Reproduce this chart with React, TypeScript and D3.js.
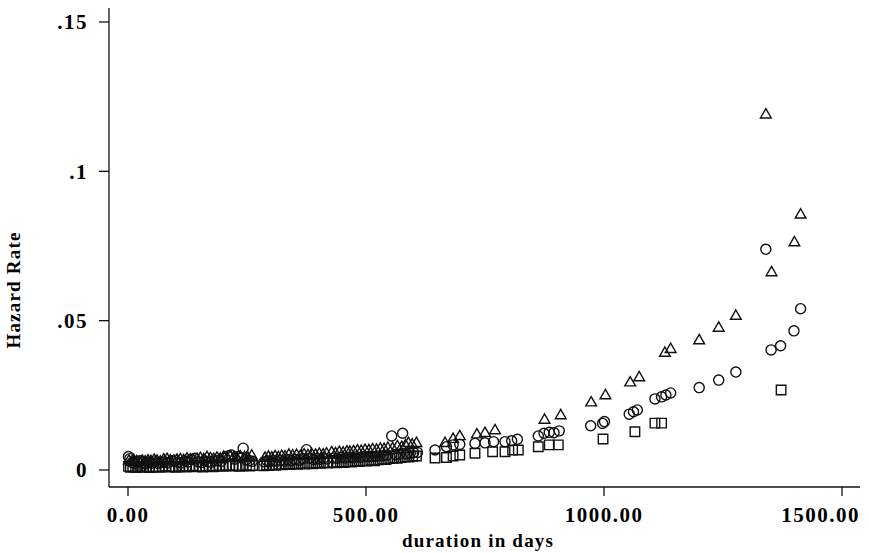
import React from "react";
import * as d3 from "d3";

// [day, hazard] pairs, one list per group
const circleDays = [
  1, 4, 9, 14, 19, 25, 31, 37, 43, 50, 56, 63, 70, 77, 84, 91, 98, 105, 112, 119, 126, 133, 140, 147, 154, 161, 168, 175, 182, 189, 196, 203, 210, 217, 224, 231, 238, 242, 248, 255, 261,
  286, 292, 298, 305, 312, 320, 328, 336, 344, 352, 360, 368, 375, 382, 390, 397, 404, 411, 418, 432, 440, 448, 456, 464, 472, 480, 488, 496, 504, 512, 520, 528, 536, 544, 554, 562, 570, 577, 585, 593, 600, 608,
  645, 669, 683, 697, 729, 750, 768, 792, 806, 818, 862, 874, 885, 895, 906, 972, 997, 1001, 1053, 1062, 1070, 1107, 1121, 1130, 1140, 1200, 1241, 1277, 1340, 1351, 1371, 1399, 1413,
];
const circleRates = [
  0.0045, 0.0038, 0.0025, 0.0022, 0.0028, 0.0031, 0.0024, 0.0021, 0.0026, 0.0023, 0.0027, 0.0022, 0.0025, 0.0028, 0.0024, 0.0029, 0.0033, 0.0026, 0.0024, 0.003, 0.0027, 0.0035, 0.0039, 0.0028, 0.0025, 0.0031, 0.0028, 0.0026, 0.003, 0.0032, 0.0029, 0.0041, 0.0047, 0.005, 0.0036, 0.0045, 0.004, 0.0073, 0.0034, 0.0031, 0.0029,
  0.0027, 0.003, 0.0028, 0.0031, 0.0029, 0.0033, 0.003, 0.0034, 0.0031, 0.0035, 0.0033, 0.0038, 0.0068, 0.0039, 0.0035, 0.0038, 0.0036, 0.004, 0.0037, 0.004, 0.0039, 0.0042, 0.004, 0.0043, 0.0041, 0.0044, 0.0042, 0.0045, 0.0044, 0.0046, 0.0045, 0.0047, 0.0048, 0.005, 0.0114, 0.0051, 0.0053, 0.0123, 0.0054, 0.0056, 0.0058, 0.0059,
  0.0067, 0.0078, 0.0084, 0.0086, 0.0089, 0.0091, 0.0095, 0.0095, 0.0098, 0.0103, 0.0114, 0.0123, 0.0126, 0.0125, 0.0131, 0.0148, 0.0156, 0.0162, 0.0187, 0.0195, 0.0201, 0.0238, 0.0245, 0.0251, 0.0258, 0.0276, 0.0301, 0.0328, 0.0739, 0.0402, 0.0416, 0.0466, 0.054,
];

const triangleDays = [
  2, 7, 12, 18, 24, 30, 36, 42, 48, 55, 61, 68, 75, 82, 89, 96, 103, 110, 117, 124, 131, 138, 145, 152, 159, 166, 173, 180, 187, 194, 201, 208, 215, 222, 229, 236, 245, 252, 260,
  288, 295, 302, 309, 316, 323, 330, 338, 346, 354, 362, 370, 378, 386, 394, 402, 410, 417, 428, 436, 444, 452, 460, 466, 474, 482, 490, 498, 506, 514, 522, 530, 538, 546, 556, 566, 575, 583, 589, 597, 606,
  666, 683, 697, 733, 750, 771, 875, 909, 973, 1003, 1055, 1074, 1128, 1140, 1200, 1241, 1277, 1340, 1352, 1400, 1413,
];
const triangleRates = [
  0.003, 0.0026, 0.0032, 0.0028, 0.0025, 0.003, 0.0027, 0.0031, 0.0029, 0.0033, 0.003, 0.0027, 0.0034, 0.0036, 0.0031, 0.0029, 0.0033, 0.0035, 0.0032, 0.0037, 0.0034, 0.0031, 0.0036, 0.0039, 0.0035, 0.0042, 0.0038, 0.0036, 0.004, 0.0037, 0.0043, 0.0039, 0.0045, 0.0041, 0.0038, 0.0044, 0.0042, 0.004, 0.0047,
  0.004, 0.0043, 0.0041, 0.0045, 0.0042, 0.0046, 0.0044, 0.005, 0.0047, 0.0049, 0.0046, 0.0051, 0.0048, 0.0052, 0.005, 0.0053, 0.0051, 0.0054, 0.0058, 0.0055, 0.0059, 0.0057, 0.0061, 0.006, 0.0062, 0.0064, 0.0063, 0.0066, 0.0065, 0.0068, 0.0067, 0.007, 0.0069, 0.0073, 0.0072, 0.0078, 0.0076, 0.0082, 0.0089, 0.0084, 0.0089,
  0.0089, 0.0103, 0.0112, 0.0118, 0.0123, 0.0132, 0.0167, 0.0182, 0.0225, 0.0249, 0.0292, 0.0309, 0.0391, 0.0404, 0.0433, 0.0475, 0.0515, 0.1189, 0.0661, 0.0761, 0.0854,
];

const squareDays = [
  1, 5, 10, 16, 21, 27, 33, 39, 45, 52, 58, 65, 72, 79, 86, 93, 100, 108, 115, 122, 129, 136, 143, 150, 157, 164, 171, 178, 185, 192, 199, 206, 213, 220, 227, 234, 241, 249, 256, 262,
  285, 291, 297, 303, 310, 317, 324, 332, 340, 348, 356, 364, 372, 380, 388, 396, 404, 412, 420, 430, 438, 446, 454, 462, 470, 478, 486, 494, 502, 510, 518, 526, 534, 542, 550, 558, 566, 574, 582, 590, 598, 606,
  645, 669, 683, 697, 729, 766, 792, 808, 820, 862, 885, 904, 998, 1065, 1107, 1121, 1372,
];
const squareRates = [
  0.0012, 0.0009, 0.0011, 0.0008, 0.001, 0.0012, 0.0009, 0.0011, 0.0008, 0.001, 0.0012, 0.0009, 0.0011, 0.0013, 0.001, 0.0012, 0.0009, 0.0011, 0.0013, 0.001, 0.0012, 0.0014, 0.0011, 0.0013, 0.001, 0.0012, 0.0014, 0.0011, 0.0013, 0.0015, 0.0012, 0.0014, 0.0016, 0.0013, 0.0015, 0.0012, 0.0014, 0.0016, 0.0013, 0.0015,
  0.0014, 0.0017, 0.0015, 0.0018, 0.0016, 0.0019, 0.0017, 0.002, 0.0018, 0.0021, 0.0019, 0.0022, 0.002, 0.0023, 0.0021, 0.0024, 0.0022, 0.0025, 0.0023, 0.0026, 0.0024, 0.0027, 0.0025, 0.0028, 0.0027, 0.003, 0.0028, 0.0031, 0.003, 0.0033, 0.0031, 0.0034, 0.0036, 0.0035, 0.0038, 0.004, 0.0039, 0.0042, 0.0044, 0.0043, 0.0046, 0.0047,
  0.004, 0.0042, 0.0047, 0.005, 0.0056, 0.0061, 0.0061, 0.0067, 0.0067, 0.0078, 0.0084, 0.0084, 0.0104, 0.0128, 0.0157, 0.0157, 0.0268,
];

const xTicks = [0, 500, 1000, 1500];
const xTickLabels = ["0.00", "500.00", "1000.00", "1500.00"];
const yTicks = [0, 0.05, 0.1, 0.15];
const yTickLabels = ["0", ".05", ".1", ".15"];

const W = 869;
const H = 553;
const font = "'Liberation Serif', 'DejaVu Serif', serif";

const x = d3.scaleLinear().domain([0, 1500]).range([128, 842]);
const y = d3.scaleLinear().domain([0, 0.15]).range([470, 22]);

const axisLeft = 109;
const axisBottom = 487;

const series = [
  { days: circleDays, rates: circleRates, path: d3.symbol(d3.symbolCircle, 80)() },
  { days: triangleDays, rates: triangleRates, path: d3.symbol(d3.symbolTriangle, 50)() },
  { days: squareDays, rates: squareRates, path: d3.symbol(d3.symbolSquare, 90)() },
];

export default function App() {
  return (
    <svg
      width={W}
      height={H}
      style={{ position: "absolute", left: 0, top: 0, background: "#fff" }}
    >
      {/* axes */}
      <line x1={axisLeft} x2={axisLeft} y1={8} y2={axisBottom} stroke="#111" strokeWidth={1.3} />
      <line x1={axisLeft} x2={860} y1={axisBottom} y2={axisBottom} stroke="#111" strokeWidth={1.3} />

      {yTicks.map((t, i) => (
        <g key={"y" + t}>
          <line x1={axisLeft - 10} x2={axisLeft} y1={y(t)} y2={y(t)} stroke="#111" strokeWidth={1.3} />
          <text
            x={88}
            y={y(t)}
            dy="0.35em"
            textAnchor="end"
            fontFamily={font}
            fontSize={21}
            fontWeight="bold"
            letterSpacing={1.5}
          >
            {yTickLabels[i]}
          </text>
        </g>
      ))}

      {xTicks.map((t, i) => {
        const last = i === xTicks.length - 1;
        return (
          <g key={"x" + t}>
            <line x1={x(t)} x2={x(t)} y1={axisBottom} y2={axisBottom + 9} stroke="#111" strokeWidth={1.3} />
            <text
              x={last ? 860 : x(t)}
              y={522}
              textAnchor={last ? "end" : "middle"}
              fontFamily={font}
              fontSize={21}
              fontWeight="bold"
              letterSpacing={1.5}
            >
              {xTickLabels[i]}
            </text>
          </g>
        );
      })}

      <text
        x={478}
        y={547}
        textAnchor="middle"
        fontFamily={font}
        fontSize={19}
        fontWeight="bold"
        letterSpacing={1.2}
      >
        duration in days
      </text>
      <text
        transform="translate(20,290) rotate(-90)"
        textAnchor="middle"
        fontFamily={font}
        fontSize={19}
        fontWeight="bold"
        letterSpacing={1.2}
      >
        Hazard Rate
      </text>

      {/* markers */}
      {series.map((s, si) =>
        s.days.map((d, i) => (
          <path
            key={si + "-" + i}
            d={s.path || ""}
            transform={`translate(${x(d)},${y(s.rates[i])})`}
            fill="none"
            stroke="#111"
            strokeWidth={1.4}
          />
        ))
      )}
    </svg>
  );
}
